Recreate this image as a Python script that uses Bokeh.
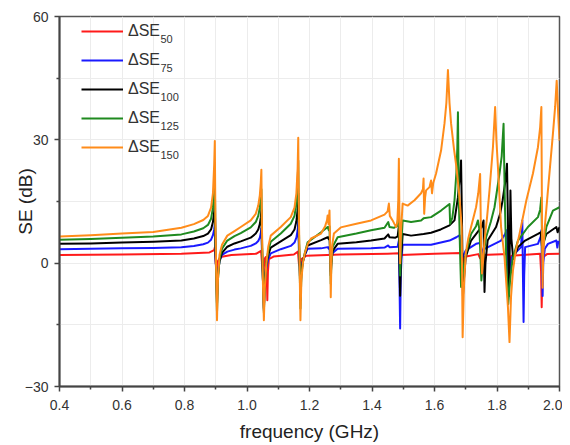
from bokeh.plotting import figure
from bokeh.models import FixedTicker, Legend, LegendItem, Range1d, Label
from bokeh.embed import file_html
from bokeh.resources import INLINE

# ---------------- data ----------------
f150 = [0.40, 0.50, 0.60, 0.70, 0.79, 0.83, 0.86, 0.875, 0.885, 0.891, 0.895, 0.897, 0.899, 0.902, 0.904, 0.907,
        0.912, 0.920, 0.937, 0.96, 0.98, 1.012, 1.028, 1.036, 1.041, 1.044, 1.046, 1.048, 1.051, 1.054, 1.057,
        1.062, 1.068, 1.076, 1.108, 1.14, 1.152, 1.158, 1.162, 1.164, 1.166, 1.169, 1.171, 1.174, 1.179, 1.185,
        1.195, 1.205, 1.237, 1.250, 1.256, 1.258, 1.261, 1.264, 1.266, 1.268, 1.270, 1.273, 1.278, 1.30, 1.35,
        1.397, 1.44, 1.450, 1.454, 1.457, 1.466, 1.472, 1.477, 1.481, 1.484, 1.486, 1.488, 1.490, 1.493, 1.498,
        1.514, 1.536, 1.557, 1.563, 1.565, 1.567, 1.570, 1.573, 1.584, 1.589, 1.592, 1.596, 1.605, 1.621, 1.632,
        1.638, 1.643, 1.648, 1.653, 1.662, 1.670, 1.680, 1.687, 1.690, 1.694, 1.700, 1.708, 1.717, 1.733, 1.740,
        1.746, 1.749, 1.752, 1.756, 1.760, 1.768, 1.776, 1.787, 1.794, 1.798, 1.803, 1.813, 1.824, 1.835, 1.840,
        1.845, 1.851, 1.860, 1.872, 1.894, 1.915, 1.931, 1.938, 1.942, 1.944, 1.946, 1.948, 1.952, 1.963, 1.979,
        1.986, 1.991, 1.996, 2.000]
se150 = [6.5, 6.8, 7.2, 7.6, 8.6, 9.5, 10.5, 11.5, 13.5, 17, 24, 29.7, 10, -5, -13.9, -4,
         2, 4.5, 6.7, 7.8, 8.8, 10.4, 12, 14, 16.5, 19.5, 22.7, 8, -5, -13.9, -6,
         0, 4, 6.7, 8.8, 11.2, 13.5, 17, 23, 30.5, 12, -4, -13.9, -4, 0, 2.4,
         4.8, 6, 7.2, 9, 10.4, 11.6, 9.5, 12.8, 4, -8.3, 0, 4.5, 7.2, 8.7, 9.6,
         10.4, 11.8, 12.6, 14.5, 11.5, 10.4, 9.5, 8.8, 10, 15, 25.4, 10, 0, 8, 14.5,
         14.0, 15.3, 17, 18, 20.6, 12, 16, 17.7, 18.5, 20.1, 17, 19.5, 21.8, 27.4, 34,
         39, 47, 39, 34, 28, 23.4, 16, 8.8, -18, -6, 2.3, 6, 8.8, 13.6, 17,
         21.7, 5, -2.5, 1, 5.5, 11, 17.7, 28.2, 38, 30, 23.4, 8.8, 1.5, -10.7, -19.2,
         -8, -1.8, 3, 7.1, 15.3, 21.8, 28.2, 33, 38, 10, -6, 2, 8, 17.7, 31.5,
         38, 44.4, 36, 29.8]

f125 = [0.40, 0.50, 0.60, 0.70, 0.79, 0.83, 0.86, 0.875, 0.885, 0.891, 0.895, 0.897, 0.899, 0.902, 0.904, 0.907,
        0.912, 0.920, 0.937, 0.96, 0.98, 1.012, 1.028, 1.036, 1.041, 1.044, 1.046, 1.048, 1.051, 1.054, 1.057,
        1.062, 1.068, 1.076, 1.108, 1.14, 1.152, 1.158, 1.162, 1.164, 1.166, 1.169, 1.171, 1.174, 1.179, 1.185,
        1.194, 1.237, 1.250, 1.258, 1.262, 1.264, 1.266, 1.268, 1.270, 1.274, 1.290, 1.35, 1.397, 1.44, 1.452,
        1.456, 1.470, 1.480, 1.484, 1.486, 1.488, 1.490, 1.493, 1.498, 1.525, 1.557, 1.565, 1.589, 1.621, 1.648,
        1.650, 1.657, 1.664, 1.670, 1.673, 1.675, 1.678, 1.682, 1.685, 1.690, 1.700, 1.717, 1.733, 1.739, 1.744,
        1.748, 1.750, 1.755, 1.765, 1.780, 1.792, 1.808, 1.815, 1.821, 1.825, 1.830, 1.836, 1.842, 1.850, 1.867,
        1.899, 1.931, 1.938, 1.942, 1.945, 1.948, 1.958, 1.979, 2.000]
se125 = [5.7, 5.9, 6.2, 6.5, 7.0, 7.7, 8.5, 9.3, 10.8, 13.5, 17.5, 21, 6, -5, -12, -4,
         1, 3.5, 5.5, 6.6, 7.3, 8.7, 10, 11.5, 13.5, 15.5, 18, 6, -4, -12, -5,
         0, 3, 5.2, 7.2, 9.6, 11.5, 14.5, 19, 25, 9, -3, -11, -3, 0.5, 2.5,
         5.1, 7.5, 8.3, 8.8, 8, 9, 3, -5, 0, 4, 6.3, 7.2, 8.0, 8.6, 10,
         8.8, 8.6, 9, 11, 15, 5, -3, 4, 10.4, 10.0, 10.4, 10.9, 11.2, 12.8, 14.4,
         9.6, 11, 15.3, 22, 28, 36.7, 15, 2, -5.8, -3, 2.3, 7.1, 9, 10.4, 8,
         0, -4.2, 1, 6.3, 10, 13.6, 21.8, 26, 33.9, 15, 0, -10, -4, 1, 5.5,
         8.8, 11.2, 13, 16, 2, 4, 8.8, 12.8, 13.6]

f100 = [0.40, 0.50, 0.60, 0.70, 0.79, 0.83, 0.86, 0.875, 0.885, 0.891, 0.895, 0.897, 0.899, 0.902, 0.904, 0.907,
        0.912, 0.920, 0.937, 0.96, 0.98, 1.012, 1.028, 1.036, 1.041, 1.044, 1.046, 1.048, 1.051, 1.054, 1.057,
        1.062, 1.068, 1.076, 1.108, 1.14, 1.152, 1.158, 1.162, 1.164, 1.166, 1.169, 1.171, 1.174, 1.179, 1.185,
        1.194, 1.237, 1.258, 1.262, 1.264, 1.266, 1.268, 1.270, 1.274, 1.290, 1.35, 1.397, 1.44, 1.452, 1.456,
        1.475, 1.482, 1.486, 1.488, 1.490, 1.493, 1.498, 1.525, 1.565, 1.589, 1.620, 1.648, 1.664, 1.675, 1.681,
        1.685, 1.688, 1.691, 1.695, 1.700, 1.717, 1.742, 1.750, 1.757, 1.759, 1.760, 1.763, 1.770, 1.797, 1.810,
        1.818, 1.826, 1.832, 1.835, 1.838, 1.841, 1.843, 1.846, 1.852, 1.867, 1.890, 1.931, 1.940, 1.944, 1.958,
        1.990, 1.994, 2.000]
se100 = [4.7, 4.8, 5.0, 5.2, 5.5, 6.0, 6.6, 7.2, 8.2, 10, 12.5, 15, 4, -4, -10, -3,
         0.5, 2.5, 4.0, 4.8, 5.3, 6.2, 7.2, 8.2, 9.5, 11, 13, 4, -4, -11, -4,
         0, 2, 3.8, 5.3, 6.8, 8.2, 10.2, 13, 17, 6, -2, -9, -2, 0.5, 2,
         4.3, 5.6, 6.3, 5.8, 6.5, 2, -3, 0, 3, 4.7, 5.1, 5.5, 6.0, 7, 6.3,
         6.2, 6.5, 9, -1, -7.9, 1, 7.1, 6.7, 7.1, 7.4, 8.2, 9.2, 10.4, 16, 21,
         25, 10, -8, -3, 1.5, 5.5, 8, 8.6, 10.4, -2, -7, 0, 5.5, 8.8, 12,
         15.3, 19.5, 24.2, 10, -8, 5, 17.7, 6, 1, 3.9, 5.5, 7.1, 7.5, 4, 7.1,
         8.8, 7.5, 8.8]

f75 = [0.40, 0.50, 0.60, 0.70, 0.79, 0.83, 0.86, 0.875, 0.885, 0.891, 0.895, 0.897, 0.899, 0.902, 0.904, 0.907,
       0.912, 0.920, 0.937, 0.96, 0.98, 1.012, 1.028, 1.036, 1.041, 1.044, 1.046, 1.048, 1.051, 1.054, 1.057,
       1.062, 1.068, 1.076, 1.108, 1.14, 1.152, 1.158, 1.162, 1.164, 1.166, 1.169, 1.171, 1.174, 1.179, 1.185,
       1.194, 1.237, 1.258, 1.262, 1.264, 1.266, 1.268, 1.270, 1.274, 1.290, 1.397, 1.44, 1.452, 1.456, 1.482,
       1.486, 1.488, 1.490, 1.492, 1.495, 1.498, 1.589, 1.648, 1.670, 1.680, 1.684, 1.690, 1.700, 1.733, 1.745,
       1.749, 1.755, 1.760, 1.813, 1.826, 1.830, 1.834, 1.838, 1.842, 1.848, 1.856, 1.877, 1.881, 1.883, 1.885,
       1.887, 1.890, 1.931, 1.940, 1.942, 1.944, 1.946, 1.948, 1.953, 1.963, 1.990, 1.993, 1.996, 2.000]
se75 = [3.4, 3.5, 3.6, 3.7, 3.9, 4.2, 4.6, 5.0, 5.7, 6.8, 8.2, 9.5, 2, -3, -8, -2,
        0.5, 2, 2.8, 3.3, 3.6, 4.2, 4.8, 5.4, 6.2, 7.2, 8.5, 2, -4, -11.5, -4,
        -1, 1, 2.4, 3.4, 4.2, 5, 6.2, 8, 10, 3, -2, -7, -1, 0.5, 2,
        3.5, 3.6, 3.9, 3.5, 4, 1, -2, 1, 2.5, 3.5, 3.6, 3.8, 4.3, 3.9, 4.0,
        5.5, -5, -15.9, -3, 2, 4.5, 4.5, 5.5, 6.3, 6.8, 3.9, 1.5, 3.1, 4.7, 4.9,
        3.9, 2.5, 3.5, 5.5, 7.1, 8, 0, -5, -1, 1.5, 2.3, 3.9, 10.4, -3, -14.3,
        -3, 3.9, 4.7, 6.5, 8, -2, -8, 0, 3.5, 4.7, 5.5, 3.8, 5.2, 5.1]

f50 = [0.40, 0.60, 0.79, 0.88, 0.895, 0.897, 0.900, 0.903, 0.907, 0.915, 0.95, 1.030, 1.045, 1.048, 1.052,
       1.056, 1.060, 1.063, 1.065, 1.067, 1.070, 1.085, 1.15, 1.163, 1.166, 1.170, 1.174, 1.190, 1.30, 1.45,
       1.486, 1.489, 1.492, 1.60, 1.686, 1.690, 1.694, 1.740, 1.746, 1.750, 1.836, 1.840, 1.846, 1.938, 1.941,
       1.943, 1.945, 1.948, 1.960, 2.000]
se50 = [2.0, 2.1, 2.3, 2.6, 3.2, 3.8, 0, -1.5, 0.5, 1.5, 2.0, 2.3, 3, 0, -3,
        1.0, 1.5, -2, -9, -2, 1, 1.6, 2.1, 2.8, 0, -1, 1, 1.8, 2.1, 2.3,
        2.4, 0.5, 2.0, 2.3, 2.5, -1, 1.5, 2.2, 1.2, 2.0, 2.2, 0, 1.8, 2.3, -2,
        -10.7, -2, 1.5, 2.2, 2.3]

series_main = ["\u0394SE"] * 5
series_sub = ["50", "75", "100", "125", "150"]
series_x = [f50, f75, f100, f125, f150]
series_y = [se50, se75, se100, se125, se150]
colors = ["#ff1a1a", "#1a1aff", "#000000", "#1f8a1f", "#ff8c1a"]

x_ticks = [0.4, 0.6, 0.8, 1.0, 1.2, 1.4, 1.6, 1.8, 2.0]
x_minor = [0.5, 0.7, 0.9, 1.1, 1.3, 1.5, 1.7, 1.9]
y_ticks = [-30, 0, 30, 60]
y_minor = [-15, 15, 45]

# ---------------- figure ----------------
FONT = "Liberation Sans"
p = figure(frame_width=500, frame_height=370, output_backend="svg", toolbar_location=None,
           x_range=Range1d(0.4, 2.0), y_range=Range1d(-30, 60),
           min_border_left=59, min_border_right=3, min_border_top=16, min_border_bottom=56)
p.background_fill_color = "white"
p.border_fill_color = "white"
p.outline_line_color = "#555555"
p.outline_line_width = 1.5

p.xaxis.ticker = FixedTicker(ticks=x_ticks, minor_ticks=x_minor)
p.yaxis.ticker = FixedTicker(ticks=y_ticks, minor_ticks=y_minor)
p.xgrid.ticker = FixedTicker(ticks=x_ticks + x_minor)
p.ygrid.ticker = FixedTicker(ticks=y_ticks + y_minor)
for g in (p.xgrid, p.ygrid):
    g.grid_line_color = "#ececec"
    g.grid_line_width = 1

for ax in (p.xaxis, p.yaxis):
    ax.axis_line_color = "#444444"
    ax.axis_line_width = 2
    ax.major_tick_line_color = "#444444"
    ax.major_tick_line_width = 1.5
    ax.minor_tick_line_color = "#444444"
    ax.minor_tick_line_width = 1.5
    ax.major_tick_in = 0
    ax.major_tick_out = 5
    ax.minor_tick_in = 0
    ax.minor_tick_out = 3
    ax.major_label_text_font = FONT
    ax.major_label_text_font_size = "14px"
    ax.major_label_text_color = "#333333"
    ax.axis_label_text_font = FONT
    ax.axis_label_text_font_size = "19px"
    ax.axis_label_text_font_style = "normal"
    ax.axis_label_text_color = "#222222"

p.xaxis.axis_label = "frequency (GHz)"
p.yaxis.axis_label = "SE (dB)"
p.xaxis.major_label_standoff = 8
p.yaxis.major_label_standoff = 6
p.xaxis.axis_label_standoff = 8
p.yaxis.axis_label_standoff = -14
p.xaxis.major_label_overrides = {0.4: "0.4", 0.6: "0.6", 0.8: "0.8", 1.0: "1.0", 1.2: "1.2",
                                 1.4: "1.4", 1.6: "1.6", 1.8: "1.8", 2.0: "2.0"}

items = []
for name, xs, ys, c in zip(series_main, series_x, series_y, colors):
    r = p.line(xs, ys, line_color=c, line_width=2, line_join="round")
    items.append(LegendItem(label=name, renderers=[r]))

legend = Legend(items=items, location=(22, 229), orientation="vertical",
                label_text_font=FONT, label_text_font_size="16px", label_text_color="#333333",
                glyph_width=42, glyph_height=20, label_height=20, spacing=9,
                padding=0, margin=0, border_line_color=None, background_fill_alpha=0,
                label_standoff=5)
p.add_layout(legend)

# subscripts of the legend labels, anchored at the frame's top-left corner, offset in pixels
for i, s in enumerate(series_sub):
    p.add_layout(Label(x=0.4, y=60, x_offset=101, y_offset=-(22 + 29 * i), text=s,
                       text_font=FONT, text_font_size="11px", text_color="#333333",
                       text_baseline="middle", text_align="left"))

open("out.html", "w").write(file_html(p, INLINE))
